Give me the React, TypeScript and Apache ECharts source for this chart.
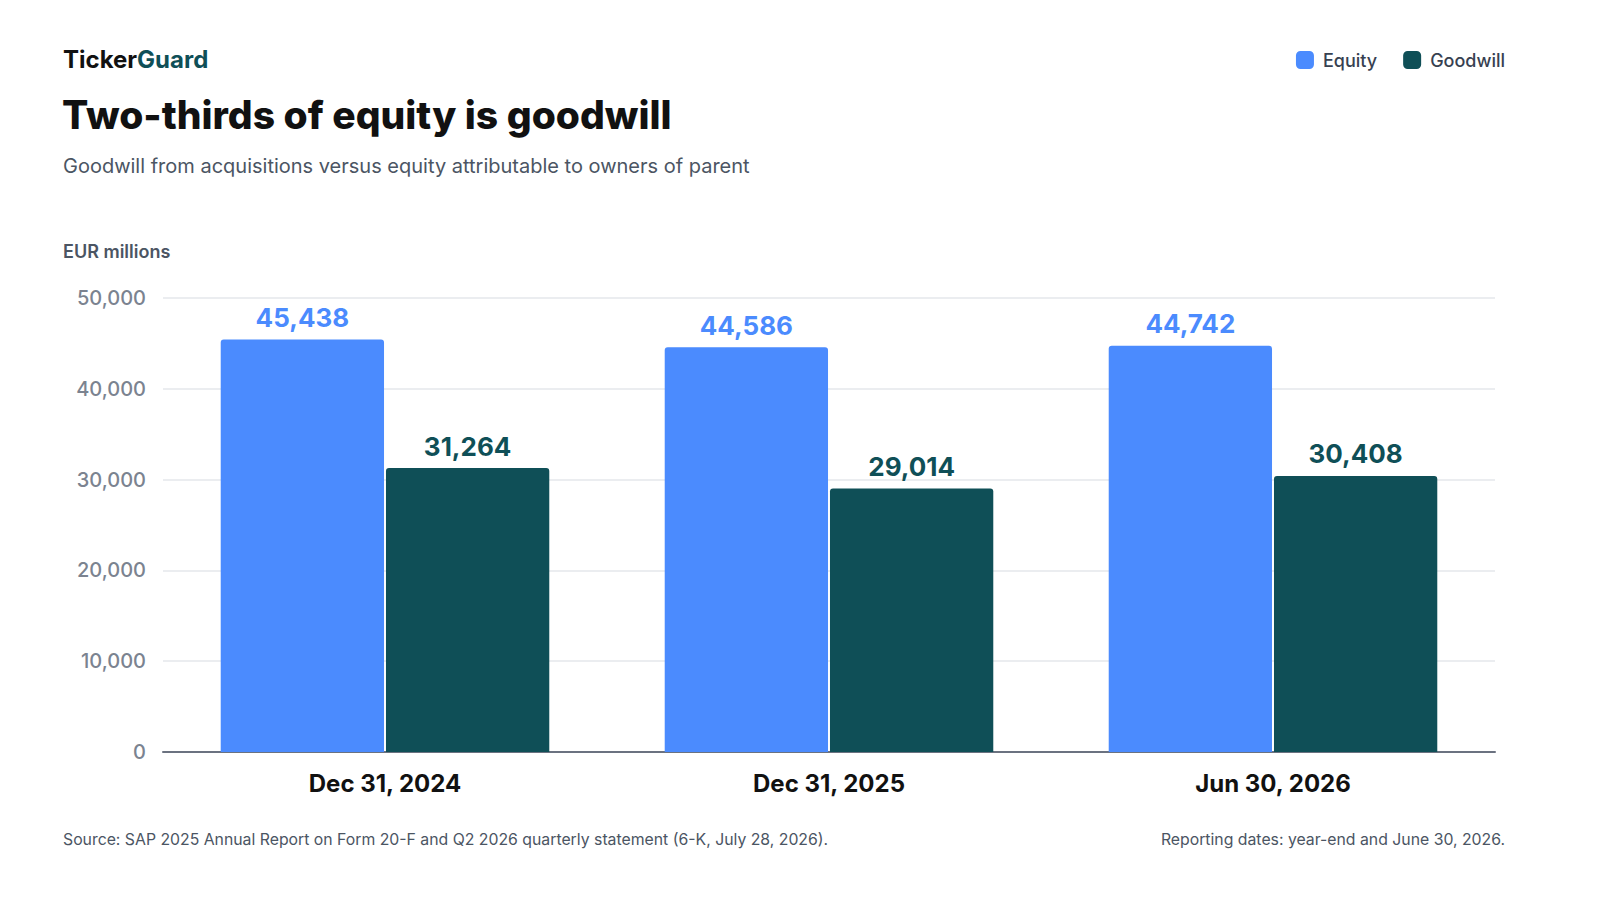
import React, { useEffect, useRef } from 'react';
import * as echarts from 'echarts';

const categories = ['Dec 31, 2024', 'Dec 31, 2025', 'Jun 30, 2026'];
const equity = [45438, 44586, 44742];
const goodwill = [31264, 29014, 30408];
const yTicks = [0, 10000, 20000, 30000, 40000, 50000];

const FONT = 'Inter, "Noto Sans", sans-serif';
const BLUE = '#4b8bfe';
const TEAL = '#0f4f57';

const fmt = (v: number) => v.toLocaleString('en-US');

const App: React.FC = () => {
    const chartRef = useRef<HTMLDivElement>(null);

    useEffect(() => {
        document.body.style.margin = '0';
        document.documentElement.style.overflow = 'hidden';
        document.body.style.overflow = 'hidden';
        if (!chartRef.current) return;
        const chart = echarts.init(chartRef.current, undefined, { renderer: 'svg' });

        chart.setOption({
            animation: false,
            backgroundColor: '#ffffff',
            textStyle: { fontFamily: FONT },
            title: [
                {
                    text: '{a|Ticker}{b|Guard}',
                    left: 63,
                    top: 47,
                    padding: 0,
                    textStyle: {
                        rich: {
                            a: { fontFamily: FONT, fontSize: 24, fontWeight: 700, color: '#111111' },
                            b: { fontFamily: FONT, fontSize: 24, fontWeight: 700, color: TEAL },
                        },
                    },
                },
                {
                    text: 'Two-thirds of equity is goodwill',
                    left: 62,
                    top: 95,
                    padding: 0,
                    textStyle: { fontFamily: FONT, fontSize: 39, fontWeight: 800, color: '#111111' },
                },
                {
                    text: 'Goodwill from acquisitions versus equity attributable to owners of parent',
                    left: 63,
                    top: 156,
                    padding: 0,
                    textStyle: { fontFamily: FONT, fontSize: 20, fontWeight: 400, color: '#4b5563' },
                },
                {
                    text: 'EUR millions',
                    left: 63,
                    top: 242,
                    padding: 0,
                    textStyle: { fontFamily: FONT, fontSize: 18, fontWeight: 600, color: '#4b5563' },
                },
                {
                    text: 'Source: SAP 2025 Annual Report on Form 20-F and Q2 2026 quarterly statement (6-K, July 28, 2026).',
                    left: 63,
                    top: 831,
                    padding: 0,
                    textStyle: { fontFamily: FONT, fontSize: 15.8, fontWeight: 400, color: '#4b5563' },
                },
                {
                    text: 'Reporting dates: year-end and June 30, 2026.',
                    right: 95,
                    top: 831,
                    padding: 0,
                    textStyle: { fontFamily: FONT, fontSize: 15.8, fontWeight: 400, color: '#4b5563' },
                },
            ],
            legend: {
                right: 95,
                top: 51,
                padding: 0,
                icon: 'roundRect',
                itemWidth: 18,
                itemHeight: 18,
                itemGap: 26,
                textStyle: {
                    fontFamily: FONT,
                    fontSize: 18,
                    fontWeight: 500,
                    color: '#374151',
                    padding: [0, 0, 0, 4],
                },
                data: ['Equity', 'Goodwill'],
            },
            grid: { left: 163, right: 105, top: 298, bottom: 148, containLabel: false },
            xAxis: {
                type: 'category',
                data: categories,
                axisTick: { show: false },
                axisLine: { show: true, lineStyle: { color: '#6b7280', width: 2 } },
                axisLabel: {
                    margin: 19,
                    fontFamily: FONT,
                    fontSize: 24,
                    fontWeight: 700,
                    color: '#111111',
                },
            },
            yAxis: {
                type: 'value',
                min: yTicks[0],
                max: yTicks[yTicks.length - 1],
                interval: 10000,
                axisLine: { show: false },
                axisTick: { show: false },
                splitLine: { lineStyle: { color: '#e5e7eb', width: 1.5 } },
                axisLabel: {
                    margin: 17,
                    fontFamily: FONT,
                    fontSize: 20,
                    fontWeight: 500,
                    color: '#7b8390',
                    formatter: (v: number) => fmt(v),
                },
            },
            series: [
                {
                    name: 'Equity',
                    type: 'bar',
                    data: equity,
                    barGap: '1.2%',
                    barCategoryGap: '26%',
                    itemStyle: { color: BLUE, borderRadius: [3, 3, 0, 0] },
                    label: {
                        show: true,
                        position: 'top',
                        distance: 9,
                        fontFamily: FONT,
                        fontSize: 26,
                        fontWeight: 700,
                        color: BLUE,
                        formatter: (p: any) => fmt(p.value),
                    },
                },
                {
                    name: 'Goodwill',
                    type: 'bar',
                    data: goodwill,
                    itemStyle: { color: TEAL, borderRadius: [3, 3, 0, 0] },
                    label: {
                        show: true,
                        position: 'top',
                        distance: 9,
                        fontFamily: FONT,
                        fontSize: 26,
                        fontWeight: 700,
                        color: TEAL,
                        formatter: (p: any) => fmt(p.value),
                    },
                },
            ],
        });

        return () => {
            chart.dispose();
        };
    }, []);

    return (
        <div
            ref={chartRef}
            style={{ position: 'fixed', left: 0, top: 0, width: '1600px', height: '900px' }}
        />
    );
};

export default App;
